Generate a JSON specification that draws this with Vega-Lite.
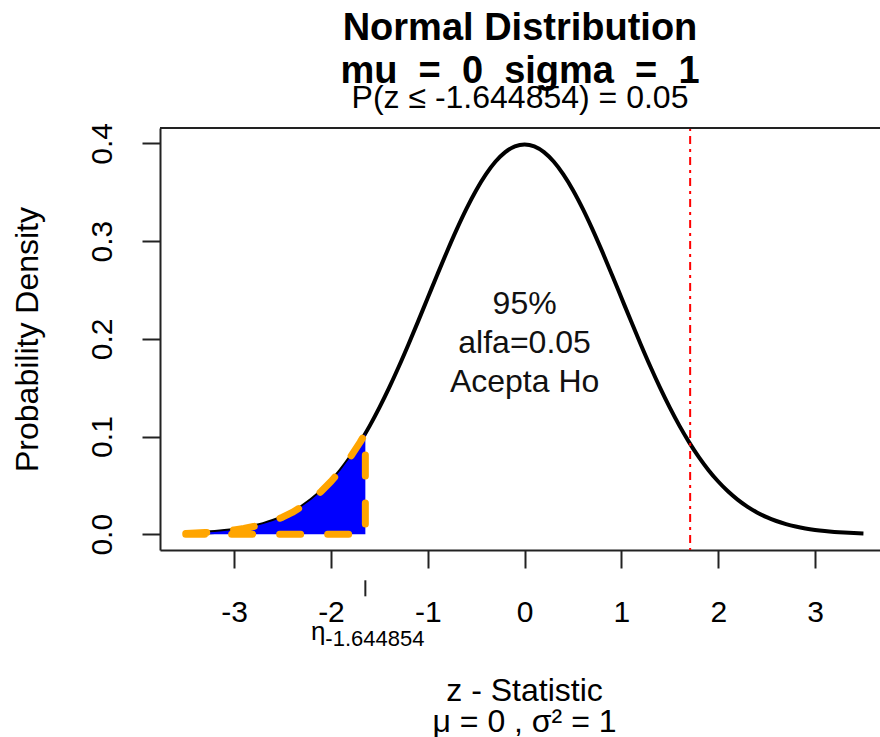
{
  "$schema": "https://vega.github.io/schema/vega-lite/v6.json",
  "width": 720,
  "height": 422,
  "autosize": {"type": "none"},
  "padding": {"left": 160, "top": 128, "right": 0, "bottom": 187},
  "background": "white",
  "config": {
    "view": {"stroke": null},
    "font": "Liberation Sans",
    "axis": {
      "domainColor": "#222222",
      "domainWidth": 2,
      "tickColor": "#222222",
      "tickWidth": 2,
      "tickSize": 18,
      "grid": false,
      "labelFont": "Liberation Sans",
      "labelFontSize": 30,
      "labelColor": "black",
      "titleFont": "Liberation Sans",
      "titleFontSize": 32,
      "titleFontWeight": "normal",
      "titleColor": "black"
    }
  },
  "title": {
    "text": ["Normal Distribution", "mu \u00a0= \u00a00 \u00a0sigma \u00a0= \u00a01"],
    "subtitle": "P(z \u2264 -1.644854) = 0.05",
    "font": "Liberation Sans",
    "fontSize": 38,
    "fontWeight": "bold",
    "color": "black",
    "lineHeight": 43,
    "subtitleFont": "Liberation Sans",
    "subtitleFontSize": 32,
    "subtitleColor": "black",
    "subtitlePadding": -8,
    "offset": 8,
    "anchor": "middle"
  },
  "datasets": {
    "curve": [
      {"x": -3.5, "y": 0.00087}, {"x": -3.4, "y": 0.00123}, {"x": -3.3, "y": 0.00172}, {"x": -3.2, "y": 0.00238},
      {"x": -3.1, "y": 0.00327}, {"x": -3.0, "y": 0.00443}, {"x": -2.9, "y": 0.00595}, {"x": -2.8, "y": 0.00792},
      {"x": -2.7, "y": 0.01042}, {"x": -2.6, "y": 0.01358}, {"x": -2.5, "y": 0.01753}, {"x": -2.4, "y": 0.02239},
      {"x": -2.3, "y": 0.02833}, {"x": -2.2, "y": 0.03547}, {"x": -2.1, "y": 0.04398}, {"x": -2.0, "y": 0.05399},
      {"x": -1.9, "y": 0.06562}, {"x": -1.8, "y": 0.07895}, {"x": -1.7, "y": 0.09405}, {"x": -1.6, "y": 0.11092},
      {"x": -1.5, "y": 0.12952}, {"x": -1.4, "y": 0.14973}, {"x": -1.3, "y": 0.17137}, {"x": -1.2, "y": 0.19419},
      {"x": -1.1, "y": 0.21785}, {"x": -1.0, "y": 0.24197}, {"x": -0.9, "y": 0.26609}, {"x": -0.8, "y": 0.28969},
      {"x": -0.7, "y": 0.31225}, {"x": -0.6, "y": 0.33322}, {"x": -0.5, "y": 0.35207}, {"x": -0.4, "y": 0.36827},
      {"x": -0.3, "y": 0.38139}, {"x": -0.2, "y": 0.39104}, {"x": -0.1, "y": 0.39695}, {"x": 0.0, "y": 0.39894},
      {"x": 0.1, "y": 0.39695}, {"x": 0.2, "y": 0.39104}, {"x": 0.3, "y": 0.38139}, {"x": 0.4, "y": 0.36827},
      {"x": 0.5, "y": 0.35207}, {"x": 0.6, "y": 0.33322}, {"x": 0.7, "y": 0.31225}, {"x": 0.8, "y": 0.28969},
      {"x": 0.9, "y": 0.26609}, {"x": 1.0, "y": 0.24197}, {"x": 1.1, "y": 0.21785}, {"x": 1.2, "y": 0.19419},
      {"x": 1.3, "y": 0.17137}, {"x": 1.4, "y": 0.14973}, {"x": 1.5, "y": 0.12952}, {"x": 1.6, "y": 0.11092},
      {"x": 1.7, "y": 0.09405}, {"x": 1.8, "y": 0.07895}, {"x": 1.9, "y": 0.06562}, {"x": 2.0, "y": 0.05399},
      {"x": 2.1, "y": 0.04398}, {"x": 2.2, "y": 0.03547}, {"x": 2.3, "y": 0.02833}, {"x": 2.4, "y": 0.02239},
      {"x": 2.5, "y": 0.01753}, {"x": 2.6, "y": 0.01358}, {"x": 2.7, "y": 0.01042}, {"x": 2.8, "y": 0.00792},
      {"x": 2.9, "y": 0.00595}, {"x": 3.0, "y": 0.00443}, {"x": 3.1, "y": 0.00327}, {"x": 3.2, "y": 0.00238},
      {"x": 3.3, "y": 0.00172}, {"x": 3.4, "y": 0.00123}, {"x": 3.5, "y": 0.00087}
    ],
    "tail": [
      {"i": 0, "x": -3.5, "y": 0.00087}, {"i": 1, "x": -3.4, "y": 0.00123}, {"i": 2, "x": -3.3, "y": 0.00172},
      {"i": 3, "x": -3.2, "y": 0.00238}, {"i": 4, "x": -3.1, "y": 0.00327}, {"i": 5, "x": -3.0, "y": 0.00443},
      {"i": 6, "x": -2.9, "y": 0.00595}, {"i": 7, "x": -2.8, "y": 0.00792}, {"i": 8, "x": -2.7, "y": 0.01042},
      {"i": 9, "x": -2.6, "y": 0.01358}, {"i": 10, "x": -2.5, "y": 0.01753}, {"i": 11, "x": -2.4, "y": 0.02239},
      {"i": 12, "x": -2.3, "y": 0.02833}, {"i": 13, "x": -2.2, "y": 0.03547}, {"i": 14, "x": -2.1, "y": 0.04398},
      {"i": 15, "x": -2.0, "y": 0.05399}, {"i": 16, "x": -1.9, "y": 0.06562}, {"i": 17, "x": -1.8, "y": 0.07895},
      {"i": 18, "x": -1.7, "y": 0.09405}, {"i": 19, "x": -1.644854, "y": 0.10314},
      {"i": 20, "x": -1.644854, "y": 0}, {"i": 21, "x": -3.5, "y": 0}, {"i": 22, "x": -3.5, "y": 0.00087}
    ],
    "notes": [
      {"x": 0, "y": 0.24, "label": "95%"},
      {"x": 0, "y": 0.2, "label": "alfa=0.05"},
      {"x": 0, "y": 0.16, "label": "Acepta Ho"}
    ],
    "one": [{}]
  },
  "layer": [
    {
      "data": {"name": "curve"},
      "mark": {"type": "line", "color": "black", "strokeWidth": 4, "interpolate": "monotone"},
      "encoding": {
        "x": {
          "field": "x", "type": "quantitative",
          "scale": {"domain": [-3.766, 3.671], "nice": false, "zero": false},
          "axis": {
            "values": [-3, -2, -1, 0, 1, 2, 3],
            "labelExpr": "'' + datum.value",
            "labelBaseline": "alphabetic",
            "labelPadding": 53,
            "labelFlush": false,
            "labelOverlap": false,
            "title": ["z - Statistic", "\u03bc = 0 , \u03c3\u00b2 = 1"],
            "titleBaseline": "alphabetic",
            "titleLineHeight": 31,
            "titleX": 364,
            "titleY": 150
          }
        },
        "y": {
          "field": "y", "type": "quantitative",
          "scale": {"domain": [-0.0161, 0.4157], "nice": false, "zero": false},
          "axis": {
            "values": [0, 0.1, 0.2, 0.3, 0.4],
            "format": ".1f",
            "labelAngle": 270,
            "labelAlign": "center",
            "labelBaseline": "alphabetic",
            "labelPadding": 31,
            "labelOverlap": false,
            "title": "Probability Density",
            "titleAngle": 270,
            "titleAlign": "center",
            "titleBaseline": "alphabetic",
            "titleX": -123,
            "titleY": 211
          }
        }
      }
    },
    {
      "data": {"name": "tail"},
      "transform": [{"filter": "datum.i <= 19"}],
      "mark": {"type": "area", "color": "#0000FF", "opacity": 1},
      "encoding": {
        "x": {"field": "x", "type": "quantitative"},
        "y": {"field": "y", "type": "quantitative"},
        "y2": {"datum": 0}
      }
    },
    {
      "data": {"name": "tail"},
      "mark": {"type": "line", "color": "#FFA500", "strokeWidth": 7, "strokeDash": [21, 27], "strokeCap": "round", "strokeJoin": "round"},
      "encoding": {
        "x": {"field": "x", "type": "quantitative"},
        "y": {"field": "y", "type": "quantitative"},
        "order": {"field": "i", "type": "quantitative"}
      }
    },
    {
      "data": {"name": "one"},
      "mark": {"type": "rule", "color": "#FF0000", "strokeWidth": 2, "strokeDash": [3, 5, 8, 5]},
      "encoding": {"x": {"datum": 1.71, "type": "quantitative"}}
    },
    {
      "data": {"name": "one"},
      "mark": {"type": "rule", "color": "#222222", "strokeWidth": 2},
      "encoding": {"y": {"datum": 0.4157, "type": "quantitative"}}
    },
    {
      "data": {"name": "notes"},
      "mark": {"type": "text", "font": "Liberation Sans", "fontSize": 32, "color": "#111111", "align": "center", "baseline": "alphabetic", "dy": 14},
      "encoding": {
        "x": {"field": "x", "type": "quantitative"},
        "y": {"field": "y", "type": "quantitative"},
        "text": {"field": "label"}
      }
    },
    {
      "data": {"name": "one"},
      "mark": {"type": "rule", "color": "#222222", "strokeWidth": 2},
      "encoding": {
        "x": {"datum": -1.644854, "type": "quantitative"},
        "y": {"datum": -0.0471, "type": "quantitative"},
        "y2": {"datum": -0.0635}
      }
    },
    {
      "data": {"name": "one"},
      "mark": {"type": "text", "text": "\u03b7", "font": "Liberation Sans", "fontSize": 26, "color": "black", "align": "right", "baseline": "alphabetic", "dx": -40, "dy": 106},
      "encoding": {
        "x": {"datum": -1.644854, "type": "quantitative"},
        "y": {"datum": 0, "type": "quantitative"}
      }
    },
    {
      "data": {"name": "one"},
      "mark": {"type": "text", "text": "-1.644854", "font": "Liberation Sans", "fontSize": 22, "color": "black", "align": "left", "baseline": "alphabetic", "dx": -40, "dy": 112},
      "encoding": {
        "x": {"datum": -1.644854, "type": "quantitative"},
        "y": {"datum": 0, "type": "quantitative"}
      }
    }
  ]
}
